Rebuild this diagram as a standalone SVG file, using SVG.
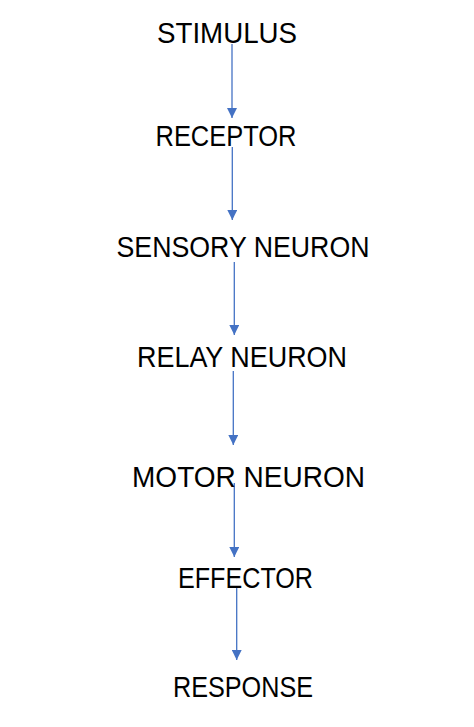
<svg xmlns="http://www.w3.org/2000/svg" width="474" height="727" viewBox="0 0 474 727">
<style>
text{font-family:"Liberation Sans",Arial,sans-serif;font-size:30px;fill:#000;text-anchor:middle}
.c{stroke:#4472C4;stroke-width:1.3;fill:none}
</style>
<defs>
<marker id="ah" viewBox="0 0 10 10" refX="10" refY="5" markerWidth="10" markerHeight="10" markerUnits="userSpaceOnUse" orient="auto">
<path d="M0,0 L10,5 L0,10 Z" fill="#4472C4"/>
</marker>
</defs>
<rect width="474" height="727" fill="#fff"/>
<g id="connectors">
<line class="c" x1="232" y1="44" x2="232" y2="118" marker-end="url(#ah)"/>
<line class="c" x1="232.3" y1="147" x2="232.3" y2="220" marker-end="url(#ah)"/>
<line class="c" x1="234.3" y1="262" x2="234.3" y2="335" marker-end="url(#ah)"/>
<line class="c" x1="233.3" y1="371" x2="233.3" y2="445" marker-end="url(#ah)"/>
<line class="c" x1="234.3" y1="483" x2="234.3" y2="557" marker-end="url(#ah)"/>
<line class="c" x1="236.7" y1="587" x2="236.7" y2="660" marker-end="url(#ah)"/>
</g>
<g id="stimulus"><text x="227" y="43" textLength="140" lengthAdjust="spacingAndGlyphs">STIMULUS</text></g>
<g id="receptor"><text x="226" y="145.5" textLength="141" lengthAdjust="spacingAndGlyphs">RECEPTOR</text></g>
<g id="sensory-neuron"><text x="243" y="256.5" textLength="253" lengthAdjust="spacingAndGlyphs">SENSORY NEURON</text></g>
<g id="relay-neuron"><text x="242" y="367" textLength="210" lengthAdjust="spacingAndGlyphs">RELAY NEURON</text></g>
<g id="motor-neuron"><text x="248.5" y="487" textLength="233" lengthAdjust="spacingAndGlyphs">MOTOR NEURON</text></g>
<g id="effector"><text x="245.5" y="588" textLength="135" lengthAdjust="spacingAndGlyphs">EFFECTOR</text></g>
<g id="response"><text x="243" y="697" textLength="140" lengthAdjust="spacingAndGlyphs">RESPONSE</text></g>
</svg>
